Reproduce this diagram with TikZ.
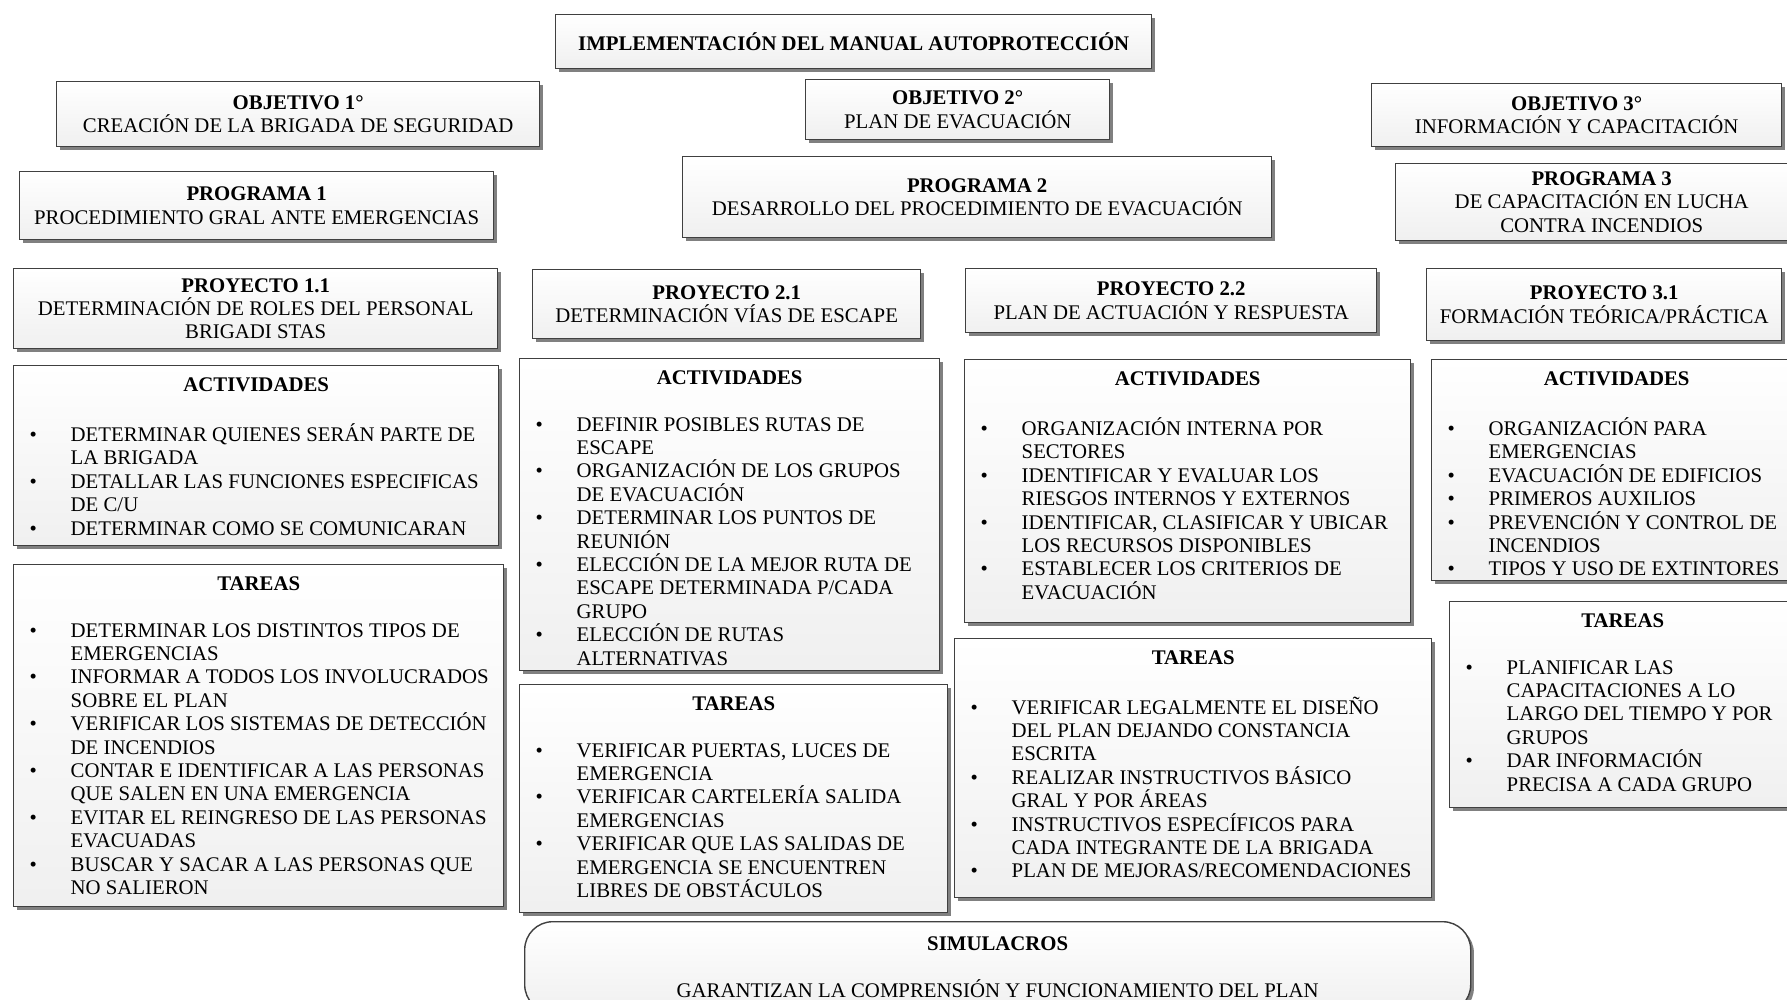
\documentclass[tikz,border=0pt]{standalone}
\usepackage{fontspec}
\setmainfont{Liberation Serif}
\usetikzlibrary{shadows}

% bullet line inside a list box
\newcommand{\itm}{\par\hangindent=28.5pt\hangafter=1\noindent\hspace*{8pt}\makebox[20.5pt][l]{\textbullet}}

% header box: name, x, y, width, height, text (pixel units)
\newcommand{\encab}[6]{%
  \node[caja, minimum width=#4*0.5pt, minimum height=#5*0.5pt, align=center] (#1) at (#2,#3) {#6};}

% list box: name, x, y, width, height, title, items
\newcommand{\lista}[7]{%
  \node[caja, minimum width=#4*0.5pt, minimum height=#5*0.5pt] (#1) at (#2,#3)
    {\parbox[c][\dimexpr #5pt/2\relax][t]{\dimexpr #4pt/2\relax}{%
      \vspace*{4.6pt}{\centering\strut\textbf{#6}\par}\vspace{11.7pt}\raggedright #7\par}};}

\begin{document}
\begin{tikzpicture}[x=0.5pt,y=-0.5pt,
    caja/.style={draw=black!75, line width=0.7pt, top color=white, bottom color=black!6,
      drop shadow={shadow xshift=1.6pt, shadow yshift=-1.6pt, fill=black!50, opacity=1},
      inner sep=0pt, anchor=north west, font=\fontsize{10.4}{11.7}\selectfont}]
    \useasboundingbox[fill=white] (0,0) rectangle (1787,1000);
    \clip (0,0) rectangle (1787,1000);

    \encab{tit}{555}{14}{596}{54}{\textbf{IMPLEMENTACIÓN DEL MANUAL AUTOPROTECCIÓN}}

    \encab{obj1}{56}{81}{483}{65}{\textbf{OBJETIVO 1°}\\CREACIÓN DE LA BRIGADA DE SEGURIDAD}
    \encab{obj2}{805}{79}{304}{60}{\textbf{OBJETIVO 2°}\\PLAN DE EVACUACIÓN}
    \encab{obj3}{1371}{83}{410}{63}{\textbf{OBJETIVO 3°}\\INFORMACIÓN Y CAPACITACIÓN}

    \encab{prog1}{19}{171}{474}{68}{\textbf{PROGRAMA 1}\\PROCEDIMIENTO GRAL ANTE EMERGENCIAS}
    \encab{prog2}{682}{156}{589}{81}{\textbf{PROGRAMA 2}\\DESARROLLO DEL PROCEDIMIENTO DE EVACUACIÓN}
    \encab{prog3}{1395}{163}{412}{77}{\textbf{PROGRAMA 3}\\DE CAPACITACIÓN EN LUCHA\\CONTRA INCENDIOS}

    \encab{proy11}{13}{268}{484}{80}{\textbf{PROYECTO 1.1}\\DETERMINACIÓN DE ROLES DEL PERSONAL\\BRIGADI STAS}
    \encab{proy21}{532}{269}{388}{69}{\textbf{PROYECTO 2.1}\\DETERMINACIÓN VÍAS DE ESCAPE}
    \encab{proy22}{965}{268}{411}{64}{\textbf{PROYECTO 2.2}\\PLAN DE ACTUACIÓN Y RESPUESTA}
    \encab{proy31}{1426}{268}{355}{72}{\textbf{PROYECTO 3.1}\\FORMACIÓN TEÓRICA/PRÁCTICA}

    % programa 1
    \lista{act1}{13}{365}{485}{180}{ACTIVIDADES}{%
      \itm DETERMINAR QUIENES SERÁN PARTE DE\newline LA BRIGADA
      \itm DETALLAR LAS FUNCIONES ESPECIFICAS\newline DE C/U
      \itm DETERMINAR COMO SE COMUNICARAN}
    \lista{tar1}{13}{564}{490}{342}{TAREAS}{%
      \itm DETERMINAR LOS DISTINTOS TIPOS DE\newline EMERGENCIAS
      \itm INFORMAR A TODOS LOS INVOLUCRADOS\newline SOBRE EL PLAN
      \itm VERIFICAR LOS SISTEMAS DE DETECCIÓN\newline DE INCENDIOS
      \itm CONTAR E IDENTIFICAR A LAS PERSONAS\newline QUE SALEN EN UNA EMERGENCIA
      \itm EVITAR EL REINGRESO DE LAS PERSONAS\newline EVACUADAS
      \itm BUSCAR Y SACAR A LAS PERSONAS QUE\newline NO SALIERON}

    % programa 2
    \lista{act2}{519}{358}{420}{312}{ACTIVIDADES}{%
      \itm DEFINIR POSIBLES RUTAS DE\newline ESCAPE
      \itm ORGANIZACIÓN DE LOS GRUPOS\newline DE EVACUACIÓN
      \itm DETERMINAR LOS PUNTOS DE\newline REUNIÓN
      \itm ELECCIÓN DE LA MEJOR RUTA DE\newline ESCAPE DETERMINADA P/CADA\newline GRUPO
      \itm ELECCIÓN DE RUTAS\newline ALTERNATIVAS}
    \lista{tar2}{519}{684}{428}{228}{TAREAS}{%
      \itm VERIFICAR PUERTAS, LUCES DE\newline EMERGENCIA
      \itm VERIFICAR CARTELERÍA SALIDA\newline EMERGENCIAS
      \itm VERIFICAR QUE LAS SALIDAS DE\newline EMERGENCIA SE ENCUENTREN\newline LIBRES DE OBSTÁCULOS}
    \lista{act3}{964}{359}{446}{263}{ACTIVIDADES}{%
      \itm ORGANIZACIÓN INTERNA POR\newline SECTORES
      \itm IDENTIFICAR Y EVALUAR LOS\newline RIESGOS INTERNOS Y EXTERNOS
      \itm IDENTIFICAR, CLASIFICAR Y UBICAR\newline LOS RECURSOS DISPONIBLES
      \itm ESTABLECER LOS CRITERIOS DE\newline EVACUACIÓN}
    \lista{tar3}{954}{638}{477}{259}{TAREAS}{%
      \itm VERIFICAR LEGALMENTE EL DISEÑO\newline DEL PLAN DEJANDO CONSTANCIA\newline ESCRITA
      \itm REALIZAR INSTRUCTIVOS BÁSICO\newline GRAL Y POR ÁREAS
      \itm INSTRUCTIVOS ESPECÍFICOS PARA\newline CADA INTEGRANTE DE LA BRIGADA
      \itm PLAN DE MEJORAS/RECOMENDACIONES}

    % programa 3
    \lista{act4}{1431}{359}{370}{221}{ACTIVIDADES}{%
      \itm ORGANIZACIÓN PARA\newline EMERGENCIAS
      \itm EVACUACIÓN DE EDIFICIOS
      \itm PRIMEROS AUXILIOS
      \itm PREVENCIÓN Y CONTROL DE\newline INCENDIOS
      \itm TIPOS Y USO DE EXTINTORES}
    \lista{tar4}{1449}{601}{346}{206}{TAREAS}{%
      \itm PLANIFICAR LAS\newline CAPACITACIONES A LO\newline LARGO DEL TIEMPO Y POR\newline GRUPOS
      \itm DAR INFORMACIÓN\newline PRECISA A CADA GRUPO}

    \node[caja, rounded corners=14pt, minimum width=473pt, minimum height=45.5pt, align=center] (sim) at (524,921)
      {\textbf{SIMULACROS}\\[11.7pt]GARANTIZAN LA COMPRENSIÓN Y FUNCIONAMIENTO DEL PLAN};
\end{tikzpicture}
\end{document}
